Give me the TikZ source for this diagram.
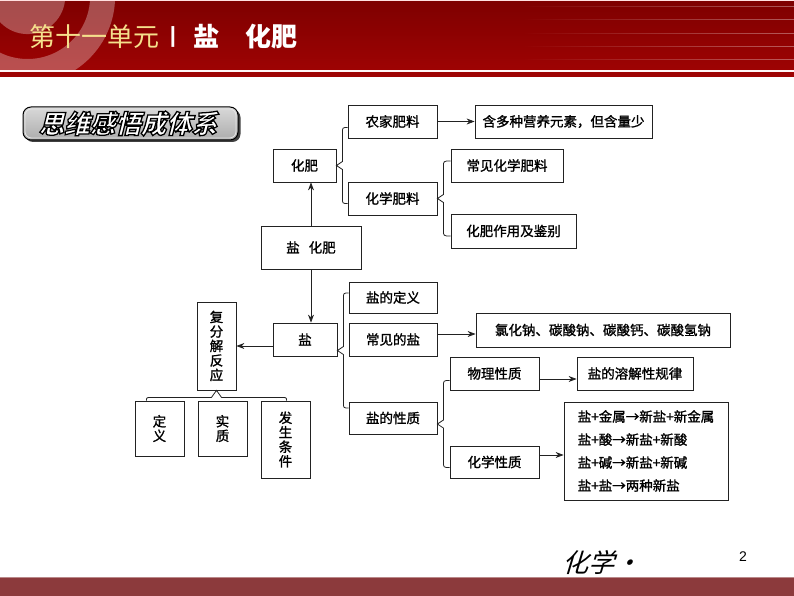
\documentclass[tikz,border=0pt]{standalone}
\usepackage{fontspec}
\newfontfamily\cjk[FakeBold=1.3]{Noto Sans CJK SC}
\newfontfamily\cjkplain{Noto Sans CJK SC}
\newfontfamily\cjkban[FakeBold=4,FakeSlant=0.25,BoldFeatures={FakeBold=5,FakeSlant=0.25}]{Noto Sans CJK SC}
\newfontfamily\cjkit[FakeSlant=0.3]{Noto Sans CJK SC}
\newfontfamily\numfont{Liberation Sans}
\usetikzlibrary{arrows.meta,calc,fadings}
\definecolor{bandtop}{HTML}{7E0000}
\definecolor{bandbot}{HTML}{9E0303}
\definecolor{titleyel}{HTML}{F5E08C}
\definecolor{footred}{HTML}{8C3A3C}
\definecolor{linecol}{HTML}{222222}
\newcommand\bracetochildren[3]{%
  \draw[conn] let \p1=(#1), \p2=(#3.west) in
   (\x2,\y1+#2) .. controls (\x1+6pt,\y1+#2) .. (\x1+6pt,\y1+#2-6pt)
   -- (\x1+6pt,\y1+4pt) -- (\x1,\y1) -- (\x1+6pt,\y1-4pt)
   -- (\x1+6pt,\y1-#2+6pt) .. controls (\x1+6pt,\y1-#2) .. (\x2,\y1-#2);}
\begin{document}
\begin{tikzpicture}[x=1pt,y=-1pt,
  box/.style={draw=linecol, line width=0.8pt, fill=white, inner sep=0pt,
    font=\cjk\fontsize{13.5}{14.5}\selectfont, align=center},
  conn/.style={draw=linecol, line width=0.8pt},
  arr/.style={conn, -{Stealth[length=8pt,width=6pt]}}]
\useasboundingbox (0,0) rectangle (794,596);
% header band
\shade[top color=bandtop, bottom color=bandbot] (0,0) rectangle (794,70.5);
\begin{scope}
  \clip (0,0) rectangle (794,70.5);
  \fill[white, opacity=0.3, even odd rule] (27.6,-3.5) circle (37.6) (27.6,-3.5) circle (62.5) (27.6,-3.5) circle (87.5);
\end{scope}
\foreach \yy in {6,19,33,46,59}
  \fill[white, opacity=0.35, path fading=west] (520,\yy) rectangle (794,\yy+1.2);
\fill[white!70!red!40] (0,0) rectangle (794,1.2);
\fill[white!85!pink] (0,70.5) rectangle (794,72.5);
\fill[bandbot] (0,72.5) rectangle (794,77);
% footer band
\fill[footred] (0,577) rectangle (794,596);
\draw[footred!60!white, line width=0.8pt] (0,577.4) -- (794,577.4);
% title
\node[anchor=west, text=titleyel, font=\cjkplain\fontsize{26}{30}\selectfont, inner sep=0pt] (ttl) at (29,37) {第十一单元};
\node[text=white, font=\numfont\bfseries\fontsize{22}{26}\selectfont, inner sep=0pt] (bar) at (173,37) {|};
\node[anchor=west, text=white, font=\cjkplain\bfseries\fontsize{26}{30}\selectfont, inner sep=0pt] (sub) at (193,37) {盐　化肥};
% banner
\fill[black!75, rounded corners=8pt] (25,109.5) rectangle (240.5,142);
\shadedraw[top color=gray!30, bottom color=gray!65, draw=black, line width=1pt, rounded corners=8pt] (23,107) rectangle (238,140);
\draw[white!80!gray, line width=0.8pt, rounded corners=6.5pt] (25,109) rectangle (236,138);
\node[font=\cjkban\bfseries\fontsize{25.5}{28}\selectfont, inner sep=0pt] (banner) at (128,123.5) {\special{pdf:bcolor [1] [0]}思维感悟成体系\special{pdf:ecolor}};
% footer texts
\node[font=\cjkit\fontsize{26}{30}\selectfont, inner sep=0pt] (hx) at (601,562) {化学·};
\node[font=\numfont\fontsize{14}{16}\selectfont, inner sep=0pt] (pg) at (743,557) {2};
% boxes
\node[box, minimum width=89pt, minimum height=33pt] (nongjia) at (392.5,121.5) {农家肥料};
\node[box, minimum width=177pt, minimum height=33pt] (handuo) at (563.5,121.5) {含多种营养元素，但含量少};
\node[box, minimum width=63pt, minimum height=33pt] (huafei) at (304.5,165.5) {化肥};
\node[box, minimum width=89pt, minimum height=33pt] (huaxue) at (392.5,198.5) {化学肥料};
\node[box, minimum width=112pt, minimum height=33pt] (changjianhf) at (507,165.5) {常见化学肥料};
\node[box, minimum width=125pt, minimum height=34pt] (zuoyong) at (513.5,231) {化肥作用及鉴别};
\node[box, minimum width=100pt, minimum height=43pt] (yanhf) at (311,247.5) {盐\hspace{9pt}化肥};
\node[box, minimum width=39pt, minimum height=88pt] (fufenjie) at (216.5,346) {复\\分\\解\\反\\应};
\node[box, minimum width=64pt, minimum height=33pt] (yan) at (305,339.5) {盐};
\node[box, minimum width=49pt, minimum height=55pt] (dingyi) at (159.5,428.5) {定\\义};
\node[box, minimum width=49pt, minimum height=55pt] (shizhi) at (222.5,428.5) {实\\质};
\node[box, minimum width=49pt, minimum height=77pt] (fasheng) at (285.5,439.5) {发\\生\\条\\件};
\node[box, minimum width=88pt, minimum height=31pt] (yandingyi) at (393,297.5) {盐的定义};
\node[box, minimum width=88pt, minimum height=33pt] (changjianyan) at (393,339.5) {常见的盐};
\node[box, minimum width=254pt, minimum height=34pt] (lvhuana) at (603,330) {氯化钠、碳酸钠、碳酸钙、碳酸氢钠};
\node[box, minimum width=88pt, minimum height=32pt] (yanxingzhi) at (393,418) {盐的性质};
\node[box, minimum width=89pt, minimum height=33pt] (wuli) at (494.5,373.5) {物理性质};
\node[box, minimum width=116pt, minimum height=33pt] (yanrongjie) at (635,373.5) {盐的溶解性规律};
\node[box, minimum width=89pt, minimum height=32pt] (huaxuexingzhi) at (494.5,462) {化学性质};
\node[box, minimum width=164pt, minimum height=98pt, align=left, font=\cjk\fontsize{13.5}{23}\selectfont] (eqs) at (646,451) {盐+金属→新盐+新金属\\盐+酸→新盐+新酸\\盐+碱→新盐+新碱\\盐+盐→两种新盐};
% arrows
\draw[arr] (yanhf.north) -- (yanhf.north |- huafei.south);
\draw[arr] (yanhf.south) -- (yanhf.south |- yan.north);
\draw[arr] (yan.west |- fufenjie.east) -- (fufenjie.east);
\draw[arr] (nongjia.east) -- (handuo.west);
\draw[arr] ($(changjianyan.east)+(0,-5.5)$) -- ($(changjianyan.east -| lvhuana.west)+(0,-5.5)$);
\draw[arr] ($(wuli.east)+(0,5.5)$) -- ($(wuli.east -| yanrongjie.west)+(0,5.5)$);
\draw[arr] ($(huaxuexingzhi.east)+(0,-7)$) -- ($(huaxuexingzhi.east -| eqs.west)+(0,-7)$);
% braces
\bracetochildren{huafei.east}{38pt}{nongjia}
\bracetochildren{huaxue.east}{37.5pt}{changjianhf}
\bracetochildren{$(yan.east)+(0,11)$}{57.5pt}{yandingyi}
\bracetochildren{$(yanxingzhi.east)+(0,6)$}{43.5pt}{wuli}
\draw[conn] let \p1=(fufenjie.south), \p2=(dingyi.north) in
  (\x1-70pt,\y2) .. controls (\x1-70pt,\y1-7pt) .. (\x1-64pt,\y1-7pt)
  -- (\x1-5pt,\y1-7pt) -- (\x1,\y1) -- (\x1+5pt,\y1-7pt)
  -- (\x1+64pt,\y1-7pt) .. controls (\x1+70pt,\y1-7pt) .. (\x1+70pt,\y2);
\end{tikzpicture}
\end{document}
